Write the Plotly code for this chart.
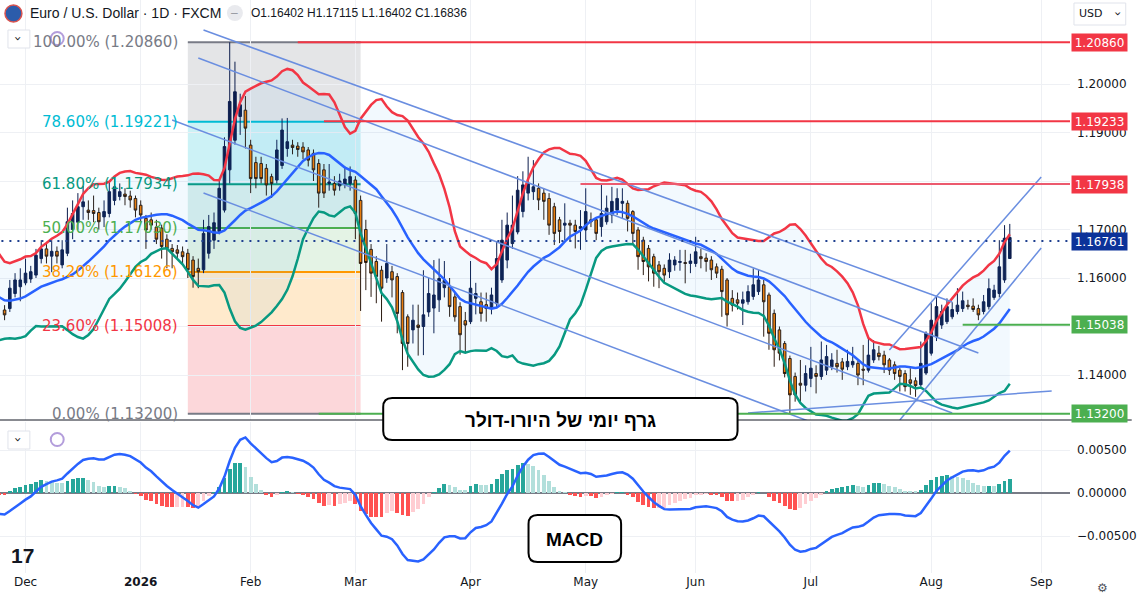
import pandas as pd
import plotly.graph_objects as go

# ---- data (EUR/USD daily, FXCM) ----

# closes before the visible window, only used to seed the Bollinger / MACD calculations
history_close = [
    1.1715, 1.1640, 1.1660, 1.1645, 1.1717, 1.1760, 1.1707, 1.1697, 1.1733, 1.1734,
    1.1760, 1.1870, 1.1815, 1.1785, 1.1745, 1.1800, 1.1815, 1.1738, 1.1665, 1.1700,
    1.1725, 1.1735,
    1.1730, 1.1715, 1.1740, 1.1710, 1.1655, 1.1630, 1.1565, 1.1620, 1.1570, 1.1605,
    1.1645, 1.1690, 1.1655, 1.1645, 1.1605, 1.1610, 1.1620, 1.1625, 1.1645, 1.1650,
    1.1600, 1.1565, 1.1535,
    1.1520, 1.1485, 1.1490, 1.1545, 1.1565, 1.1560, 1.1580, 1.1590, 1.1630, 1.1620,
    1.1590, 1.1580, 1.1540, 1.1530, 1.1512, 1.1520,
]

opens = [
    1.1534, 1.1537, 1.1568, 1.1582, 1.1590, 1.1598, 1.1606, 1.1640, 1.1660, 1.1645,
    1.1655, 1.1627, 1.1651, 1.1700, 1.1715, 1.1747, 1.1740, 1.1739, 1.1735, 1.1726,
    1.1733, 1.1760, 1.1768, 1.1773, 1.1769, 1.1764, 1.1750, 1.1723, 1.1720, 1.1705,
    1.1703, 1.1680, 1.1661, 1.1658, 1.1654, 1.1651, 1.1637, 1.1620, 1.1617, 1.1651,
    1.1678, 1.1696, 1.1740, 1.1823, 1.1884, 1.1933, 1.1946, 1.1874, 1.1838, 1.1836,
    1.1826, 1.1809, 1.1802, 1.1832, 1.1867, 1.1874, 1.1872, 1.1870, 1.1864, 1.1857,
    1.1836, 1.1823, 1.1795, 1.1795, 1.1790, 1.1793, 1.1795, 1.1802, 1.1760, 1.1700,
    1.1659, 1.1634, 1.1616, 1.1600, 1.1613, 1.1603, 1.1570, 1.1520, 1.1493, 1.1503,
    1.1500, 1.1530, 1.1538, 1.1555, 1.1580, 1.1582, 1.1561, 1.1541, 1.1512, 1.1510,
    1.1558, 1.1551, 1.1545, 1.1537, 1.1547, 1.1596, 1.1637, 1.1671, 1.1695, 1.1737,
    1.1775, 1.1778, 1.1785, 1.1775, 1.1764, 1.1747, 1.1720, 1.1709, 1.1713, 1.1709,
    1.1702, 1.1699, 1.1720, 1.1720, 1.1706, 1.1716, 1.1730, 1.1740, 1.1754, 1.1754,
    1.1737, 1.1699, 1.1678, 1.1661, 1.1644, 1.1627, 1.1620, 1.1613, 1.1627, 1.1632,
    1.1632, 1.1630, 1.1630, 1.1644, 1.1641, 1.1637, 1.1623, 1.1618, 1.1596, 1.1558,
    1.1555, 1.1548, 1.1551, 1.1562, 1.1572, 1.1586, 1.1565, 1.1527, 1.1493, 1.1465,
    1.1434, 1.1397, 1.1383, 1.1379, 1.1393, 1.1403, 1.1397, 1.1410, 1.1417, 1.1424,
    1.1427, 1.1417, 1.1421, 1.1424, 1.1412, 1.1410, 1.1431, 1.1445, 1.1441, 1.1431,
    1.1421, 1.1410, 1.1403, 1.1390, 1.1388, 1.1380, 1.1404, 1.1445, 1.1479, 1.1503,
    1.1510, 1.1520, 1.1531, 1.1537, 1.1544, 1.1542, 1.1537, 1.1531, 1.1541, 1.1560,
    1.1568, 1.1596, 1.16402,
]
highs = [
    1.1544, 1.1596, 1.1610, 1.1620, 1.1640, 1.1625, 1.1660, 1.1678, 1.1672, 1.1678,
    1.1665, 1.1678, 1.1745, 1.1760, 1.1775, 1.1790, 1.1760, 1.1770, 1.1745, 1.1760,
    1.1800, 1.1805, 1.1795, 1.1785, 1.1780, 1.1770, 1.1760, 1.1730, 1.1735, 1.1720,
    1.1710, 1.1690, 1.1670, 1.1668, 1.1665, 1.1660, 1.1645, 1.1640, 1.1720, 1.1730,
    1.1735, 1.1800, 1.1890, 1.2086, 1.2046, 1.1980, 1.1975, 1.1885, 1.1850, 1.1850,
    1.1835, 1.1815, 1.1885, 1.1929, 1.1930, 1.1885, 1.1880, 1.1880, 1.1870, 1.1865,
    1.1845, 1.1835, 1.1835, 1.1810, 1.1815, 1.1830, 1.1830, 1.1810, 1.1770, 1.1720,
    1.1670, 1.1645, 1.1625, 1.1670, 1.1625, 1.1610, 1.1575, 1.1525, 1.1545, 1.1545,
    1.1616, 1.1600, 1.1637, 1.1640, 1.1635, 1.1600, 1.1570, 1.1550, 1.1530, 1.1635,
    1.1590, 1.1570, 1.1570, 1.1580, 1.1675, 1.1720, 1.1735, 1.1770, 1.1810, 1.1820,
    1.1850, 1.1843, 1.1795, 1.1785, 1.1775, 1.1755, 1.1726, 1.1754, 1.1720, 1.1720,
    1.1740, 1.1785, 1.1735, 1.1725, 1.1795, 1.1770, 1.1788, 1.1785, 1.1785, 1.1760,
    1.1740, 1.1705, 1.1685, 1.1668, 1.1650, 1.1635, 1.1628, 1.1651, 1.1645, 1.1658,
    1.1658, 1.1650, 1.1685, 1.1660, 1.1651, 1.1645, 1.1630, 1.1625, 1.1600, 1.1575,
    1.1570, 1.1572, 1.1585, 1.1620, 1.1617, 1.1596, 1.1570, 1.1535, 1.1500, 1.1470,
    1.1440, 1.1405, 1.1431, 1.1420, 1.1458, 1.1420, 1.1469, 1.1462, 1.1445, 1.1452,
    1.1435, 1.1452, 1.1458, 1.1430, 1.1462, 1.1479, 1.1472, 1.1460, 1.1450, 1.1435,
    1.1428, 1.1415, 1.1410, 1.1414, 1.1395, 1.1469, 1.1490, 1.1548, 1.1562, 1.1545,
    1.1558, 1.1550, 1.1579, 1.1572, 1.1555, 1.1558, 1.1545, 1.1565, 1.1599, 1.1586,
    1.1678, 1.1709, 1.17115,
]
lows = [
    1.1513, 1.1530, 1.1560, 1.1552, 1.1585, 1.1590, 1.1600, 1.1630, 1.1630, 1.1612,
    1.1630, 1.1620, 1.1645, 1.1680, 1.1700, 1.1720, 1.1720, 1.1715, 1.1700, 1.1705,
    1.1725, 1.1750, 1.1760, 1.1750, 1.1745, 1.1725, 1.1715, 1.1660, 1.1700, 1.1670,
    1.1640, 1.1620, 1.1620, 1.1640, 1.1630, 1.1600, 1.1580, 1.1579, 1.1610, 1.1640,
    1.1660, 1.1690, 1.1735, 1.1795, 1.1875, 1.1895, 1.1867, 1.1775, 1.1785, 1.1795,
    1.1770, 1.1765, 1.1795, 1.1825, 1.1850, 1.1855, 1.1850, 1.1845, 1.1830, 1.1800,
    1.1745, 1.1765, 1.1780, 1.1770, 1.1780, 1.1785, 1.1780, 1.1680, 1.1532, 1.1575,
    1.1561, 1.1548, 1.1510, 1.1590, 1.1560, 1.1486, 1.1410, 1.1417, 1.1465, 1.1440,
    1.1441, 1.1520, 1.1486, 1.1530, 1.1560, 1.1520, 1.1510, 1.1442, 1.1445, 1.1505,
    1.1525, 1.1510, 1.1510, 1.1525, 1.1540, 1.1590, 1.1620, 1.1660, 1.1690, 1.1725,
    1.1760, 1.1761, 1.1740, 1.1720, 1.1689, 1.1668, 1.1672, 1.1678, 1.1675, 1.1661,
    1.1658, 1.1678, 1.1705, 1.1678, 1.1685, 1.1710, 1.1713, 1.1730, 1.1723, 1.1696,
    1.1668, 1.1617, 1.1606, 1.1593, 1.1582, 1.1579, 1.1590, 1.1600, 1.1615, 1.1615,
    1.1589, 1.1610, 1.1623, 1.1620, 1.1613, 1.1596, 1.1600, 1.1520, 1.1500, 1.1531,
    1.1535, 1.1503, 1.1545, 1.1555, 1.1565, 1.1479, 1.1452, 1.1417, 1.1430, 1.1395,
    1.1320, 1.1345, 1.1345, 1.1366, 1.1375, 1.1362, 1.1390, 1.1400, 1.1410, 1.1405,
    1.1390, 1.1410, 1.1415, 1.1379, 1.1379, 1.1405, 1.1425, 1.1430, 1.1404, 1.1400,
    1.1390, 1.1366, 1.1366, 1.1359, 1.1355, 1.1376, 1.1400, 1.1440, 1.1470, 1.1495,
    1.1505, 1.1515, 1.1525, 1.1530, 1.1535, 1.1530, 1.1513, 1.1525, 1.1535, 1.1555,
    1.1560, 1.1590, 1.16402,
]
closes = [
    1.1524, 1.1579, 1.1596, 1.1596, 1.1610, 1.1613, 1.1647, 1.1660, 1.1645, 1.1655,
    1.1645, 1.1658, 1.1716, 1.1733, 1.1747, 1.1757, 1.1735, 1.1733, 1.1716, 1.1737,
    1.1778, 1.1788, 1.1778, 1.1768, 1.1761, 1.1740, 1.1730, 1.1699, 1.1709, 1.1680,
    1.1665, 1.1661, 1.1654, 1.1651, 1.1644, 1.1617, 1.1603, 1.1613, 1.1692, 1.1706,
    1.1714, 1.1785, 1.1871, 1.1964, 1.1984, 1.1957, 1.1909, 1.1805, 1.1805, 1.1805,
    1.1792, 1.1795, 1.1864, 1.1905, 1.1881, 1.1869, 1.1865, 1.1860, 1.1843, 1.1823,
    1.1775, 1.1775, 1.1798, 1.1781, 1.1800, 1.1804, 1.1809, 1.1733, 1.1630, 1.1632,
    1.1610, 1.1603, 1.1579, 1.1630, 1.1596, 1.1527, 1.1465, 1.1465, 1.1513, 1.1498,
    1.1524, 1.1568, 1.1565, 1.1599, 1.1595, 1.1541, 1.1520, 1.1483, 1.1503, 1.1579,
    1.1568, 1.1527, 1.1537, 1.1565, 1.1640, 1.1678, 1.1709, 1.1709, 1.1781, 1.1792,
    1.1795, 1.1788, 1.1761, 1.1758, 1.1709, 1.1692, 1.1696, 1.1713, 1.1709, 1.1696,
    1.1706, 1.1737, 1.1716, 1.1692, 1.1733, 1.1744, 1.1758, 1.1764, 1.1758, 1.1723,
    1.1692, 1.1644, 1.1634, 1.1623, 1.1610, 1.1613, 1.1606, 1.1637, 1.1637, 1.1634,
    1.1630, 1.1635, 1.1654, 1.1640, 1.1634, 1.1617, 1.1610, 1.1572, 1.1524, 1.1544,
    1.1548, 1.1555, 1.1572, 1.1586, 1.1596, 1.1551, 1.1486, 1.1452, 1.1445, 1.1403,
    1.1359, 1.1359, 1.1379, 1.1403, 1.1414, 1.1397, 1.1431, 1.1438, 1.1431, 1.1417,
    1.1412, 1.1428, 1.1428, 1.1400, 1.1410, 1.1441, 1.1452, 1.1438, 1.1421, 1.1410,
    1.1403, 1.1397, 1.1376, 1.1383, 1.1378, 1.1424, 1.1486, 1.1513, 1.1541, 1.1531,
    1.1541, 1.1535, 1.1544, 1.1553, 1.1541, 1.1535, 1.1524, 1.1551, 1.1578, 1.1575,
    1.1623, 1.1682, 1.16836,
]

holidays = ["2025-12-25", "2026-01-01"]

month_ticks = ["2025-12-01", "2026-01-02", "2026-02-02", "2026-03-02", "2026-04-01",
               "2026-05-01", "2026-06-01", "2026-07-01", "2026-08-03", "2026-09-01"]
month_labels = ["Dec", "<b>2026</b>", "Feb", "Mar", "Apr", "May", "Jun", "Jul", "Aug", "Sep"]

price_ticks = [1.14, 1.15, 1.16, 1.17, 1.18, 1.19, 1.20]
price_labels = ["1.14000", "", "1.16000", "1.17000", "", "1.19000", "1.20000"]  # 1.15 / 1.18 sit under level tags
macd_ticks = [-0.005, 0.0, 0.005]

# horizontal levels: price, start date, colour
level_prices = [1.20860, 1.19233, 1.17938, 1.15038, 1.13200]
level_starts = ["2026-02-13", "2026-02-20", "2026-04-30", "2026-08-11", "2026-02-19"]
level_colors = ["#f23645", "#f23645", "#ec5a6e", "#4caf50", "#4caf50"]
tag_colors = ["#f23645", "#f23645", "#f23645", "#4caf50", "#4caf50"]
last_price = 1.16761

# fibonacci retracement drawn from the Jan high to the June low
fib_start, fib_end = "2026-01-15", "2026-03-03"
fib_high, fib_low = 1.20860, 1.13200
fib_ratios = [1.0, 0.786, 0.618, 0.5, 0.382, 0.236, 0.0]
fib_line_colors = ["#787b86", "#00bcd4", "#089981", "#4caf50", "#ff9800", "#f23645", "#787b86"]
fib_fill_colors = ["rgba(120,123,134,0.2)", "rgba(0,188,212,0.2)", "rgba(8,153,129,0.15)",
                   "rgba(76,175,80,0.15)", "rgba(255,152,0,0.2)", "rgba(242,54,69,0.2)"]

# trend lines (start date, start price, end date, end price)
trend_lines = [
    ("2026-01-20", 1.21113, "2026-08-07", 1.15505),
    ("2026-01-19", 1.20536, "2026-08-14", 1.14454),
    ("2026-01-12", 1.19258, "2026-08-07", 1.13217),
    ("2026-01-20", 1.17753, "2026-07-01", 1.13031),
    ("2026-07-22", 1.14515, "2026-09-01", 1.18082),
    ("2026-07-24", 1.13072, "2026-09-01", 1.16619),
    ("2026-06-15", 1.13216, "2026-09-03", 1.13670),
]

# ---- indicators ----
hist_dates = pd.bdate_range("2025-09-01", "2025-11-24")
dates = pd.bdate_range("2025-11-25", "2026-08-24")
dates = dates[~dates.isin(pd.to_datetime(holidays))]
assert len(dates) == len(closes)

all_dates = hist_dates.append(dates)
all_close = pd.Series(history_close + closes, index=all_dates)

bb_mid = all_close.rolling(20).mean()
bb_sd = all_close.rolling(20).std(ddof=0)
bb_up = bb_mid + 2 * bb_sd
bb_lo = bb_mid - 2 * bb_sd

ema12 = all_close.ewm(span=12, adjust=False).mean()
ema26 = all_close.ewm(span=26, adjust=False).mean()
macd = ema12 - ema26
signal = macd.ewm(span=9, adjust=False).mean()
hist = macd - signal

hist_colors = []
prev = 0.0
for h in hist:
    if h >= 0:
        hist_colors.append("#26a69a" if h > prev else "#b2dfdb")
    else:
        hist_colors.append("#ffcdd2" if h > prev else "#ff5252")
    prev = h

# ---- figure ----
W, H = 1137, 597
PW, PH = 1075, 573  # plot area in pixels (margins r=62, b=24)


def px(x):
    return x / PW


def py(y):
    return (PH - y) / PH


def label(x, y, text, size, color, family="Liberation Sans", **kw):
    # text placed by pixel centre
    d = dict(x=px(x), y=py(y), xref="paper", yref="paper", xanchor="center", yanchor="middle",
             showarrow=False, text=text, font=dict(size=size, color=color, family=family))
    d.update(kw)
    return d


fig = go.Figure()

# bollinger bands
ok = bb_mid.notna()
fig.add_trace(go.Scatter(x=all_dates[ok], y=bb_up[ok], mode="lines",
                         line=dict(color="#f23645", width=2.5), hoverinfo="skip"))
fig.add_trace(go.Scatter(x=all_dates[ok], y=bb_lo[ok], mode="lines", fill="tonexty",
                         fillcolor="rgba(33,150,243,0.06)",
                         line=dict(color="#089981", width=2.5), hoverinfo="skip"))
fig.add_trace(go.Scatter(x=all_dates[ok], y=bb_mid[ok], mode="lines",
                         line=dict(color="#2962ff", width=2.5), hoverinfo="skip"))

# trend lines
for x0, y0, x1, y1 in trend_lines:
    fig.add_trace(go.Scatter(x=[x0, x1], y=[y0, y1], mode="lines",
                             line=dict(color="#6a8ee0", width=1.5), hoverinfo="skip"))

# horizontal levels
for p, s, c in zip(level_prices, level_starts, level_colors):
    fig.add_trace(go.Scatter(x=[s, "2026-09-30"], y=[p, p], mode="lines",
                             line=dict(color=c, width=2), hoverinfo="skip"))

fig.add_trace(go.Scatter(x=["2025-11-03", "2026-09-30"], y=[last_price, last_price], mode="lines",
                         line=dict(color="#1e3f8f", width=2, dash="2px,6px"), hoverinfo="skip"))

# candles
fig.add_trace(go.Candlestick(
    x=dates, open=opens, high=highs, low=lows, close=closes,
    increasing=dict(line=dict(color="#0d1d4d", width=1), fillcolor="#0d1d4d"),
    decreasing=dict(line=dict(color="#2a1a10", width=1), fillcolor="#f57c00"),
    whiskerwidth=0, hoverinfo="skip"))

# MACD pane
fig.add_trace(go.Bar(x=all_dates, y=hist, marker=dict(color=hist_colors, line=dict(width=0)),
                     width=0.72 * 86400000, xaxis="x2", yaxis="y2", hoverinfo="skip"))
fig.add_trace(go.Scatter(x=all_dates, y=macd, mode="lines", line=dict(color="#2962ff", width=2.5),
                         xaxis="x2", yaxis="y2", hoverinfo="skip"))

shapes = []
annotations = []

# fibonacci box
fib_prices = [fib_low + r * (fib_high - fib_low) for r in fib_ratios]
for i in range(len(fib_prices) - 1):
    shapes.append(dict(type="rect", xref="x", yref="y", x0=fib_start, x1=fib_end,
                       y0=fib_prices[i + 1], y1=fib_prices[i], fillcolor=fib_fill_colors[i],
                       line=dict(width=0), layer="below"))
for r, p, c in zip(fib_ratios, fib_prices, fib_line_colors):
    shapes.append(dict(type="line", xref="x", yref="y", x0=fib_start, x1=fib_end, y0=p, y1=p,
                       line=dict(color=c, width=2), layer="below"))
    annotations.append(dict(x=fib_start, y=p, xref="x", yref="y", xanchor="right", yanchor="middle",
                            xshift=-8, showarrow=False, text=f"{r * 100:.2f}% ({p:.5f})",
                            font=dict(size=15, color=c, family="DejaVu Sans")))

# price tags on the scale
for p, c in zip(level_prices, tag_colors):
    annotations.append(dict(x=1, y=p, xref="paper", yref="y", xanchor="left", yanchor="middle",
                            xshift=1, showarrow=False, text=f"{p:.5f}", bgcolor=c,
                            width=53, height=15, borderpad=1,
                            font=dict(size=12, color="white", family="DejaVu Sans")))
annotations.append(dict(x=1, y=last_price, xref="paper", yref="y", xanchor="left", yanchor="middle",
                        xshift=1, showarrow=False, text=f"{last_price:.5f}", bgcolor="#0c3299",
                        width=53, height=15, borderpad=1,
                        font=dict(size=12, color="white", family="DejaVu Sans")))

# pane separator
shapes.append(dict(type="line", xref="paper", yref="paper", x0=0, x1=W / PW, y0=py(420), y1=py(420),
                   line=dict(color="#131722", width=1), layer="above"))


def rounded_box(x0, y0, x1, y1, r):
    return (f"M {px(x0 + r)},{py(y0)} L {px(x1 - r)},{py(y0)} Q {px(x1)},{py(y0)} {px(x1)},{py(y0 + r)} "
            f"L {px(x1)},{py(y1 - r)} Q {px(x1)},{py(y1)} {px(x1 - r)},{py(y1)} "
            f"L {px(x0 + r)},{py(y1)} Q {px(x0)},{py(y1)} {px(x0)},{py(y1 - r)} "
            f"L {px(x0)},{py(y0 + r)} Q {px(x0)},{py(y0)} {px(x0 + r)},{py(y0)} Z")


for box in [(385, 398, 741, 440), (531, 515, 624, 562)]:
    shapes.append(dict(type="path", xref="paper", yref="paper", path=rounded_box(*box, 9),
                       fillcolor="white", line=dict(color="#000000", width=2), layer="above"))
annotations.append(label(563, 420, "<b>גרף יומי של היורו-דולר</b>", 19, "#000000"))
annotations.append(label(577.5, 539, "<b>MACD</b>", 19, "#000000"))

# header / toolbar bits
shapes.append(dict(type="circle", xref="paper", yref="paper", x0=px(5), x1=px(22), y0=py(22), y1=py(5),
                   fillcolor="#2b5cab", line=dict(color="#d9534f", width=1.5), layer="above"))
shapes.append(dict(type="circle", xref="paper", yref="paper", x0=px(228), x1=px(244), y0=py(21), y1=py(5),
                   fillcolor="#e9eaee", line=dict(width=0), layer="above"))
annotations.append(label(28, 13, "Euro / U.S. Dollar · 1D · FXCM", 14, "#131722", xanchor="left"))
annotations.append(label(236, 13, "–", 12, "#9598a1"))
annotations.append(label(250, 13, "O1.16402 H1.17115 L1.16402 C1.16836", 12, "#131722", xanchor="left"))
shapes.append(dict(type="rect", xref="paper", yref="paper", x0=px(1079), x1=px(1131), y0=py(25), y1=py(3),
                   fillcolor="white", line=dict(color="#e0e3eb", width=1), layer="above"))
annotations.append(label(1096, 14, "USD", 11, "#131722", family="DejaVu Sans"))
annotations.append(label(1123, 14, "›", 12, "#131722", family="DejaVu Sans", textangle=90))
for yy in (39, 440):
    shapes.append(dict(type="rect", xref="paper", yref="paper", x0=px(8), x1=px(30), y0=py(yy + 9),
                       y1=py(yy - 9), fillcolor="white", line=dict(color="#e0e3eb", width=1), layer="above"))
    annotations.append(label(19, yy, "›", 13, "#131722", family="DejaVu Sans", textangle=90))
    shapes.append(dict(type="circle", xref="paper", yref="paper", x0=px(51), x1=px(64), y0=py(yy + 6),
                       y1=py(yy - 7), fillcolor="rgba(0,0,0,0)", line=dict(color="#b39ddb", width=2),
                       layer="above"))
annotations.append(label(23, 555, "<b>17</b>", 21, "#131722"))
annotations.append(label(1108, 588, "⚙", 12, "#50535e", family="DejaVu Sans"))

grid = "#eef0f4"
rangebreaks = [dict(bounds=["sat", "mon"]), dict(values=holidays)]
x_range = ["2025-11-24 03:00", "2026-09-08 12:00"]

fig.update_layout(
    width=W, height=H,
    margin=dict(l=0, r=W - PW, t=0, b=H - PH),
    paper_bgcolor="white", plot_bgcolor="white",
    showlegend=False, bargap=0,
    font=dict(family="DejaVu Sans", size=12, color="#131722"),
    xaxis=dict(domain=[0, 1], anchor="y", type="date", range=x_range, rangebreaks=rangebreaks,
               tickmode="array", tickvals=month_ticks, ticktext=month_labels, showticklabels=False,
               showgrid=True, gridcolor=grid, zeroline=False, rangeslider=dict(visible=False),
               fixedrange=True),
    xaxis2=dict(domain=[0, 1], anchor="y2", type="date", range=x_range, rangebreaks=rangebreaks,
                tickmode="array", tickvals=month_ticks, ticktext=month_labels, showgrid=True,
                gridcolor=grid, zeroline=False, ticks="", tickfont=dict(size=12, color="#131722")),
    yaxis=dict(domain=[py(420), 1], anchor="x", side="right",
               range=[1.20 - (420 - 84) / 4850, 1.20 + 84 / 4850],
               tickmode="array", tickvals=price_ticks, ticktext=price_labels, showgrid=True,
               gridcolor=grid, zeroline=False, ticks="", ticklabelstandoff=6,
               tickfont=dict(size=12, color="#131722")),
    yaxis2=dict(domain=[0, py(422)], anchor="x2", side="right",
                range=[-(573 - 493) / 8600, (493 - 422) / 8600],
                tickmode="array", tickvals=macd_ticks, tickformat=".5f", showgrid=True, gridcolor=grid,
                zeroline=True, zerolinecolor="#787b86", zerolinewidth=1.5, ticks="", ticklabelstandoff=6,
                tickfont=dict(size=12, color="#131722")),
    shapes=shapes,
    annotations=annotations,
)

# the page's default 8px body margin would push the figure off the window
fig.write_html("out.html", config={"displayModeBar": False},
               post_script="document.body.style.margin='0';")
